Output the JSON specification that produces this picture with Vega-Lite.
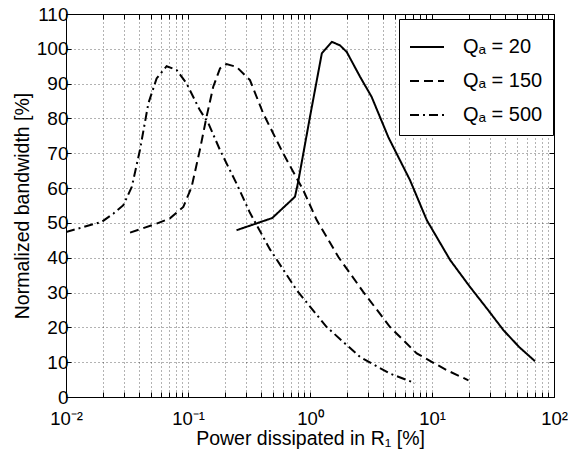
{
  "$schema": "https://vega.github.io/schema/vega-lite/v6.json",
  "autosize": {"type": "none"},
  "width": 488,
  "height": 383,
  "padding": {"left": 66, "top": 14, "right": 14, "bottom": 53},
  "background": "white",
  "config": {
    "font": "Liberation Sans",
    "view": {"stroke": "#000", "strokeWidth": 1},
    "axis": {
      "labelFont": "Liberation Sans",
      "titleFont": "Liberation Sans",
      "labelFontSize": 19,
      "titleFontSize": 19.5,
      "titleFontWeight": "normal",
      "labelColor": "#000",
      "titleColor": "#000",
      "domainColor": "#000",
      "tickColor": "#000",
      "gridColor": "#000",
      "gridDash": [1, 3],
      "gridOpacity": 0.6,
      "gridWidth": 1
    }
  },
  "datasets": {
    "curves": [
      {"series": "Qₐ = 20", "x": 0.25, "y": 47.9},
      {"series": "Qₐ = 20", "x": 0.49, "y": 51.4},
      {"series": "Qₐ = 20", "x": 0.753, "y": 57.5},
      {"series": "Qₐ = 20", "x": 0.80, "y": 61.8},
      {"series": "Qₐ = 20", "x": 1.0, "y": 80.5},
      {"series": "Qₐ = 20", "x": 1.25, "y": 98.7},
      {"series": "Qₐ = 20", "x": 1.51, "y": 102},
      {"series": "Qₐ = 20", "x": 1.76, "y": 101},
      {"series": "Qₐ = 20", "x": 2.0, "y": 99.1},
      {"series": "Qₐ = 20", "x": 2.57, "y": 92},
      {"series": "Qₐ = 20", "x": 3.2, "y": 86.2},
      {"series": "Qₐ = 20", "x": 4.39, "y": 74.6},
      {"series": "Qₐ = 20", "x": 6.6, "y": 62.3},
      {"series": "Qₐ = 20", "x": 9.06, "y": 50.8},
      {"series": "Qₐ = 20", "x": 14.1, "y": 39.3},
      {"series": "Qₐ = 20", "x": 20.5, "y": 31.6},
      {"series": "Qₐ = 20", "x": 28.5, "y": 25.2},
      {"series": "Qₐ = 20", "x": 38.5, "y": 19.2},
      {"series": "Qₐ = 20", "x": 52, "y": 14.3},
      {"series": "Qₐ = 20", "x": 69.8, "y": 10.3},
      {"series": "Qₐ = 150", "x": 0.0335, "y": 47.2},
      {"series": "Qₐ = 150", "x": 0.0553, "y": 49.8},
      {"series": "Qₐ = 150", "x": 0.0711, "y": 51.3},
      {"series": "Qₐ = 150", "x": 0.0915, "y": 54.6},
      {"series": "Qₐ = 150", "x": 0.107, "y": 60.3},
      {"series": "Qₐ = 150", "x": 0.125, "y": 70.9},
      {"series": "Qₐ = 150", "x": 0.142, "y": 80.5},
      {"series": "Qₐ = 150", "x": 0.161, "y": 89.1},
      {"series": "Qₐ = 150", "x": 0.183, "y": 94.4},
      {"series": "Qₐ = 150", "x": 0.207, "y": 95.6},
      {"series": "Qₐ = 150", "x": 0.25, "y": 94.8},
      {"series": "Qₐ = 150", "x": 0.322, "y": 91},
      {"series": "Qₐ = 150", "x": 0.414, "y": 81.4},
      {"series": "Qₐ = 150", "x": 0.604, "y": 69.9},
      {"series": "Qₐ = 150", "x": 0.881, "y": 59.4},
      {"series": "Qₐ = 150", "x": 1.135, "y": 50.8},
      {"series": "Qₐ = 150", "x": 1.71, "y": 40.2},
      {"series": "Qₐ = 150", "x": 2.73, "y": 30.2},
      {"series": "Qₐ = 150", "x": 4.53, "y": 20.1},
      {"series": "Qₐ = 150", "x": 7.5, "y": 12.5},
      {"series": "Qₐ = 150", "x": 13.2, "y": 7.7},
      {"series": "Qₐ = 150", "x": 19.9, "y": 4.8},
      {"series": "Qₐ = 500", "x": 0.01, "y": 47.4},
      {"series": "Qₐ = 500", "x": 0.0196, "y": 50.3},
      {"series": "Qₐ = 500", "x": 0.0245, "y": 52.7},
      {"series": "Qₐ = 500", "x": 0.0295, "y": 55.1},
      {"series": "Qₐ = 500", "x": 0.0346, "y": 60.3},
      {"series": "Qₐ = 500", "x": 0.0404, "y": 71},
      {"series": "Qₐ = 500", "x": 0.0473, "y": 84.3},
      {"series": "Qₐ = 500", "x": 0.0553, "y": 91.5},
      {"series": "Qₐ = 500", "x": 0.0668, "y": 95},
      {"series": "Qₐ = 500", "x": 0.0807, "y": 93.9},
      {"series": "Qₐ = 500", "x": 0.0975, "y": 90},
      {"series": "Qₐ = 500", "x": 0.125, "y": 82.4},
      {"series": "Qₐ = 500", "x": 0.147, "y": 78.6},
      {"series": "Qₐ = 500", "x": 0.183, "y": 70.9},
      {"series": "Qₐ = 500", "x": 0.25, "y": 61.3},
      {"series": "Qₐ = 500", "x": 0.322, "y": 52.9},
      {"series": "Qₐ = 500", "x": 0.47, "y": 42.4},
      {"series": "Qₐ = 500", "x": 0.778, "y": 30.7},
      {"series": "Qₐ = 500", "x": 1.37, "y": 20.1},
      {"series": "Qₐ = 500", "x": 2.57, "y": 11.5},
      {"series": "Qₐ = 500", "x": 4.53, "y": 6.7},
      {"series": "Qₐ = 500", "x": 7.26, "y": 4.0}
    ]
  },
  "data": {"name": "curves"},
  "layer": [
    {
      "mark": {"type": "line", "color": "#000", "strokeWidth": 2, "clip": true},
      "encoding": {
        "x": {
          "field": "x", "type": "quantitative",
          "scale": {"type": "log", "domain": [0.01, 100], "nice": false},
          "axis": {
            "orient": "bottom",
            "title": "Power dissipated in R₁ [%]",
            "values": [0.01,0.02,0.03,0.04,0.05,0.06,0.07,0.08,0.09,0.1,0.2,0.3,0.4,0.5,0.6,0.7,0.8,0.9,1,2,3,4,5,6,7,8,9,10,20,30,40,50,60,70,80,90,100],
            "labelExpr": "datum.value == 0.01 ? '10⁻²' : datum.value == 0.1 ? '10⁻¹' : datum.value == 1 ? '10⁰' : datum.value == 10 ? '10¹' : datum.value == 100 ? '10²' : ''",
            "grid": true,
            "tickSize": -5,
            "labelFontSize": 18.5,
            "labelPadding": 17,
            "labelFlush": false,
            "labelOverlap": false,
            "titlePadding": 2
          }
        },
        "y": {
          "field": "y", "type": "quantitative",
          "scale": {"domain": [0, 110], "nice": false},
          "axis": {
            "orient": "left",
            "title": "Normalized bandwidth [%]",
            "values": [0,10,20,30,40,50,60,70,80,90,100,110],
            "grid": true,
            "tickSize": -5,
            "labelPadding": 3,
            "titlePadding": 4
          }
        },
        "strokeDash": {
          "field": "series", "type": "nominal",
          "scale": {"domain": ["Qₐ = 20", "Qₐ = 150", "Qₐ = 500"], "range": [[1, 0], [9, 5], [9, 4, 2, 4]]},
          "legend": {
            "title": null,
            "orient": "none",
            "legendX": 333,
            "legendY": 5,
            "strokeColor": "#000",
            "fillColor": "#fff",
            "padding": 10,
            "rowPadding": 6,
            "symbolType": "stroke",
            "symbolSize": 1156,
            "symbolStrokeWidth": 2,
            "symbolStrokeColor": "#000",
            "labelFont": "Liberation Sans",
            "labelFontSize": 20,
            "labelColor": "#000",
            "labelOffset": 18
          }
        }
      }
    },
    {
      "mark": {"type": "line", "strokeOpacity": 0},
      "encoding": {
        "detail": {"field": "series"},
        "x": {
          "field": "x", "type": "quantitative",
          "scale": {"type": "log", "domain": [0.01, 100], "nice": false},
          "axis": {
            "orient": "top", "title": null, "labels": false, "grid": false, "domain": false,
            "values": [0.01,0.02,0.03,0.04,0.05,0.06,0.07,0.08,0.09,0.1,0.2,0.3,0.4,0.5,0.6,0.7,0.8,0.9,1,2,3,4,5,6,7,8,9,10,20,30,40,50,60,70,80,90,100],
            "tickSize": -5
          }
        },
        "y": {
          "field": "y", "type": "quantitative",
          "scale": {"domain": [0, 110], "nice": false},
          "axis": {
            "orient": "right", "title": null, "labels": false, "grid": false, "domain": false,
            "values": [0,10,20,30,40,50,60,70,80,90,100,110],
            "tickSize": -5
          }
        }
      }
    }
  ],
  "resolve": {"axis": {"x": "independent", "y": "independent"}}
}
